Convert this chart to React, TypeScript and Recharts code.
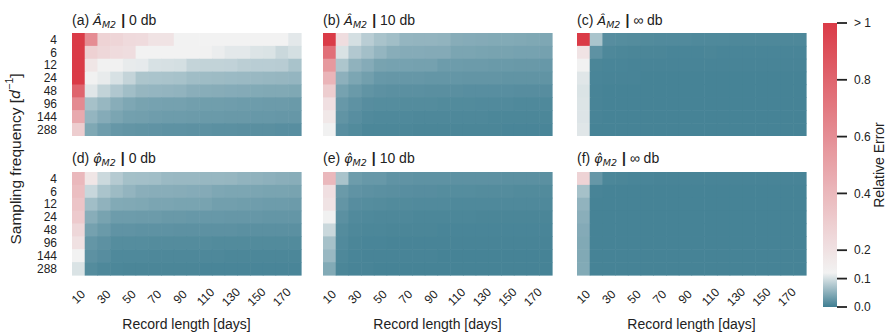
import React from 'react';
import { ScatterChart, Scatter, XAxis, YAxis, BarChart, Bar } from 'recharts';

// record length [days] on x, sampling frequency [1/d] on y
const recordLengths = [10, 20, 30, 40, 50, 60, 70, 80, 90, 100, 110, 120, 130, 140, 150, 160, 170, 180];
const recordTicks = [10, 30, 50, 70, 90, 110, 130, 150, 170];
const samplingFreqs = [4, 6, 12, 24, 48, 96, 144, 288];
const colorbarTicks = [0, 0.1, 0.2, 0.4, 0.6, 0.8, 1];

// relative errors, one row per sampling frequency (values > 1 clipped to 1)
const ampErr0db = [
  [1.0, 0.61, 0.27, 0.26, 0.235, 0.23, 0.19, 0.19, 0.12, 0.12, 0.12, 0.12, 0.12, 0.12, 0.12, 0.12, 0.12, 0.11],
  [1.0, 0.28, 0.25, 0.23, 0.22, 0.12, 0.12, 0.12, 0.12, 0.12, 0.119, 0.115, 0.11, 0.11, 0.105, 0.104, 0.093, 0.1],
  [1.0, 0.18, 0.119, 0.119, 0.113, 0.112, 0.102, 0.101, 0.1, 0.089, 0.088, 0.088, 0.087, 0.083, 0.082, 0.082, 0.081, 0.071],
  [1.0, 0.119, 0.113, 0.102, 0.089, 0.073, 0.072, 0.071, 0.07, 0.065, 0.064, 0.063, 0.062, 0.061, 0.06, 0.059, 0.058, 0.057],
  [0.8, 0.108, 0.088, 0.076, 0.066, 0.058, 0.057, 0.056, 0.055, 0.05, 0.049, 0.048, 0.047, 0.046, 0.045, 0.044, 0.044, 0.043],
  [0.62, 0.069, 0.059, 0.049, 0.042, 0.038, 0.037, 0.036, 0.036, 0.034, 0.033, 0.033, 0.032, 0.031, 0.031, 0.03, 0.03, 0.029],
  [0.47, 0.057, 0.047, 0.04, 0.035, 0.034, 0.032, 0.031, 0.031, 0.03, 0.029, 0.029, 0.028, 0.028, 0.027, 0.027, 0.026, 0.026],
  [0.3, 0.043, 0.032, 0.026, 0.024, 0.023, 0.022, 0.021, 0.021, 0.02, 0.02, 0.019, 0.019, 0.018, 0.018, 0.018, 0.017, 0.017],
];

const ampErr10db = [
  [1.0, 0.22, 0.1, 0.082, 0.071, 0.066, 0.057, 0.056, 0.056, 0.055, 0.048, 0.047, 0.046, 0.045, 0.045, 0.044, 0.043, 0.042],
  [0.75, 0.103, 0.077, 0.067, 0.057, 0.049, 0.047, 0.047, 0.046, 0.046, 0.04, 0.04, 0.039, 0.038, 0.038, 0.037, 0.037, 0.036],
  [0.55, 0.074, 0.054, 0.047, 0.038, 0.037, 0.037, 0.036, 0.036, 0.031, 0.031, 0.03, 0.03, 0.029, 0.029, 0.028, 0.028, 0.027],
  [0.42, 0.052, 0.041, 0.034, 0.027, 0.026, 0.026, 0.026, 0.025, 0.025, 0.025, 0.024, 0.024, 0.024, 0.023, 0.023, 0.023, 0.023],
  [0.3, 0.037, 0.029, 0.023, 0.02, 0.019, 0.019, 0.019, 0.018, 0.018, 0.018, 0.017, 0.017, 0.017, 0.017, 0.016, 0.016, 0.016],
  [0.21, 0.027, 0.021, 0.016, 0.015, 0.015, 0.014, 0.014, 0.014, 0.013, 0.013, 0.013, 0.012, 0.012, 0.012, 0.011, 0.011, 0.011],
  [0.17, 0.023, 0.017, 0.012, 0.011, 0.011, 0.011, 0.01, 0.01, 0.01, 0.01, 0.01, 0.01, 0.009, 0.009, 0.009, 0.009, 0.009],
  [0.119, 0.017, 0.013, 0.009, 0.009, 0.009, 0.009, 0.008, 0.008, 0.008, 0.008, 0.008, 0.008, 0.008, 0.007, 0.007, 0.007, 0.007],
];

const ampErrInf = [
  [1.0, 0.072, 0.016, 0.015, 0.014, 0.013, 0.012, 0.012, 0.012, 0.011, 0.011, 0.011, 0.01, 0.01, 0.01, 0.01, 0.01, 0.01],
  [0.19, 0.021, 0.01, 0.009, 0.008, 0.008, 0.008, 0.007, 0.007, 0.007, 0.008, 0.007, 0.007, 0.007, 0.007, 0.007, 0.007, 0.007],
  [0.119, 0.008, 0.007, 0.007, 0.006, 0.006, 0.006, 0.006, 0.006, 0.006, 0.006, 0.006, 0.006, 0.006, 0.006, 0.006, 0.006, 0.006],
  [0.108, 0.007, 0.006, 0.006, 0.006, 0.005, 0.005, 0.005, 0.005, 0.005, 0.005, 0.005, 0.005, 0.005, 0.005, 0.005, 0.005, 0.005],
  [0.104, 0.006, 0.005, 0.005, 0.005, 0.005, 0.005, 0.005, 0.005, 0.005, 0.005, 0.005, 0.005, 0.005, 0.005, 0.005, 0.005, 0.005],
  [0.105, 0.006, 0.005, 0.005, 0.005, 0.005, 0.005, 0.005, 0.005, 0.005, 0.005, 0.005, 0.005, 0.005, 0.005, 0.005, 0.005, 0.005],
  [0.106, 0.006, 0.005, 0.005, 0.005, 0.005, 0.005, 0.005, 0.005, 0.005, 0.005, 0.005, 0.005, 0.005, 0.005, 0.005, 0.005, 0.005],
  [0.108, 0.005, 0.005, 0.005, 0.005, 0.005, 0.005, 0.005, 0.005, 0.005, 0.005, 0.005, 0.005, 0.005, 0.005, 0.005, 0.005, 0.005],
];

const phaseErr0db = [
  [0.4, 0.18, 0.094, 0.079, 0.068, 0.067, 0.066, 0.061, 0.06, 0.06, 0.059, 0.059, 0.058, 0.055, 0.054, 0.052, 0.05, 0.049],
  [0.37, 0.092, 0.072, 0.063, 0.056, 0.05, 0.049, 0.049, 0.048, 0.047, 0.046, 0.042, 0.041, 0.041, 0.04, 0.039, 0.039, 0.038],
  [0.34, 0.066, 0.054, 0.045, 0.044, 0.043, 0.04, 0.04, 0.039, 0.039, 0.038, 0.034, 0.034, 0.033, 0.032, 0.031, 0.031, 0.03],
  [0.31, 0.049, 0.038, 0.031, 0.031, 0.03, 0.03, 0.028, 0.028, 0.027, 0.027, 0.027, 0.026, 0.026, 0.026, 0.025, 0.025, 0.025],
  [0.25, 0.036, 0.029, 0.022, 0.022, 0.021, 0.021, 0.021, 0.02, 0.02, 0.02, 0.02, 0.02, 0.019, 0.019, 0.019, 0.019, 0.019],
  [0.2, 0.025, 0.02, 0.015, 0.015, 0.015, 0.014, 0.014, 0.014, 0.014, 0.014, 0.013, 0.013, 0.013, 0.013, 0.013, 0.013, 0.013],
  [0.12, 0.02, 0.016, 0.011, 0.011, 0.011, 0.01, 0.01, 0.01, 0.01, 0.01, 0.01, 0.009, 0.009, 0.009, 0.009, 0.009, 0.009],
  [0.104, 0.014, 0.01, 0.009, 0.008, 0.008, 0.008, 0.008, 0.008, 0.008, 0.007, 0.007, 0.007, 0.007, 0.007, 0.007, 0.007, 0.007],
];

const phaseErr10db = [
  [0.4, 0.071, 0.031, 0.027, 0.027, 0.022, 0.022, 0.021, 0.021, 0.021, 0.02, 0.02, 0.02, 0.02, 0.019, 0.019, 0.019, 0.019],
  [0.21, 0.029, 0.022, 0.02, 0.019, 0.018, 0.017, 0.016, 0.016, 0.015, 0.015, 0.015, 0.014, 0.014, 0.014, 0.013, 0.013, 0.013],
  [0.19, 0.024, 0.016, 0.015, 0.014, 0.013, 0.013, 0.012, 0.012, 0.012, 0.011, 0.011, 0.011, 0.011, 0.011, 0.011, 0.011, 0.011],
  [0.119, 0.019, 0.012, 0.011, 0.01, 0.01, 0.01, 0.009, 0.009, 0.009, 0.009, 0.009, 0.008, 0.008, 0.008, 0.008, 0.008, 0.008],
  [0.093, 0.014, 0.01, 0.009, 0.009, 0.008, 0.008, 0.008, 0.008, 0.007, 0.007, 0.007, 0.007, 0.007, 0.007, 0.007, 0.007, 0.007],
  [0.069, 0.012, 0.008, 0.007, 0.007, 0.006, 0.006, 0.006, 0.006, 0.006, 0.006, 0.006, 0.006, 0.006, 0.006, 0.006, 0.006, 0.006],
  [0.06, 0.01, 0.007, 0.006, 0.006, 0.006, 0.006, 0.006, 0.006, 0.005, 0.005, 0.005, 0.005, 0.005, 0.005, 0.005, 0.005, 0.005],
  [0.045, 0.008, 0.006, 0.006, 0.005, 0.005, 0.005, 0.005, 0.005, 0.005, 0.005, 0.005, 0.005, 0.005, 0.005, 0.005, 0.005, 0.005],
];

const phaseErrInf = [
  [0.27, 0.026, 0.009, 0.008, 0.007, 0.007, 0.006, 0.006, 0.006, 0.006, 0.006, 0.006, 0.006, 0.006, 0.006, 0.006, 0.006, 0.006],
  [0.069, 0.006, 0.005, 0.005, 0.005, 0.005, 0.005, 0.005, 0.005, 0.005, 0.005, 0.005, 0.005, 0.005, 0.005, 0.005, 0.005, 0.005],
  [0.055, 0.005, 0.005, 0.005, 0.005, 0.005, 0.005, 0.005, 0.005, 0.005, 0.005, 0.005, 0.005, 0.005, 0.005, 0.005, 0.005, 0.005],
  [0.05, 0.005, 0.005, 0.005, 0.005, 0.005, 0.005, 0.005, 0.005, 0.005, 0.005, 0.005, 0.005, 0.005, 0.005, 0.005, 0.005, 0.005],
  [0.046, 0.005, 0.005, 0.005, 0.005, 0.005, 0.005, 0.005, 0.005, 0.005, 0.005, 0.005, 0.005, 0.005, 0.005, 0.005, 0.005, 0.005],
  [0.044, 0.005, 0.005, 0.005, 0.005, 0.005, 0.005, 0.005, 0.005, 0.005, 0.005, 0.005, 0.005, 0.005, 0.005, 0.005, 0.005, 0.005],
  [0.044, 0.005, 0.005, 0.005, 0.005, 0.005, 0.005, 0.005, 0.005, 0.005, 0.005, 0.005, 0.005, 0.005, 0.005, 0.005, 0.005, 0.005],
  [0.045, 0.005, 0.005, 0.005, 0.005, 0.005, 0.005, 0.005, 0.005, 0.005, 0.005, 0.005, 0.005, 0.005, 0.005, 0.005, 0.005, 0.005],
];

const FONT = '"Liberation Sans", Arial, Helvetica, sans-serif';
const MATH_FONT = '"DejaVu Sans", sans-serif';
const TEXT = '#222';
const PLOT_W = 229;
const PLOT_H = 103;
const Y_AXIS_W = 72;
const X_AXIS_H = 44;
const SIDE = 12; // room for rotated tick labels

// diverging teal -> light grey -> red, centred a bit above 0.1
const LOW = [63, 126, 146];
const MID = [242, 242, 242];
const HIGH = [218, 59, 71];
const CENTER = 0.12;

function errColor(v: number) {
  const c = Math.min(Math.max(v, 0), 1);
  let a = LOW, b = MID, t = c / CENTER;
  if (c > CENTER) {
    a = MID;
    b = HIGH;
    t = (c - CENTER) / (1 - CENTER);
  }
  const rgb = a.map((ch, i) => Math.round(ch + (b[i] - ch) * t));
  return `rgb(${rgb.join(',')})`;
}

const gradientStops = Array.from({ length: 51 }, (_, i) => i / 50);

const HeatCell = (props: any) => {
  const { cx, cy, payload } = props;
  const w = PLOT_W / recordLengths.length;
  const h = PLOT_H / samplingFreqs.length;
  // a little overlap so no seams show between neighbouring cells
  return <rect x={cx - w / 2} y={cy - h / 2} width={w + 0.6} height={h + 0.6} fill={errColor(payload.v)} />;
};

const RotatedTick = (props: any) => {
  const { x, y, payload } = props;
  return (
    <text x={x} y={y} transform={`rotate(-45 ${x} ${y})`} textAnchor="middle" dominantBaseline="central"
      fontSize={12} fill={TEXT}>
      {payload.value}
    </text>
  );
};

function Panel({ values, left, top, showY, showX }: any) {
  const points = values.flatMap((row: number[], i: number) =>
    row.map((v, j) => ({ x: recordLengths[j], y: i, v })));
  const yw = showY ? Y_AXIS_W : SIDE;
  return (
    <div style={{ position: 'absolute', left: left - yw, top }}>
      <ScatterChart width={PLOT_W + yw + SIDE} height={PLOT_H + (showX ? X_AXIS_H : 0)}
        margin={{ top: 0, right: SIDE, bottom: 0, left: showY ? 0 : SIDE }}>
        <XAxis type="number" dataKey="x" domain={[5, 185]} ticks={recordTicks} interval={0}
          hide={!showX} height={X_AXIS_H} axisLine={false} tickLine={false} tickSize={0} tickMargin={22}
          tick={<RotatedTick />} />
        <YAxis type="number" dataKey="y" domain={[-0.5, 7.5]} reversed ticks={[0, 1, 2, 3, 4, 5, 6, 7]}
          interval={0} hide={!showY} width={Y_AXIS_W} axisLine={false} tickLine={false} tickSize={0}
          tickMargin={15} tickFormatter={(i: number) => String(samplingFreqs[i])}
          tick={{ fontSize: 12, fill: TEXT }} />
        <Scatter data={points} shape={HeatCell} isAnimationActive={false} />
      </ScatterChart>
    </div>
  );
}

function Title({ x, y, tag, symbol, snr }: any) {
  return (
    <text x={x} y={y} fontSize={14} fill={TEXT}>
      {`(${tag}) `}
      <tspan fontFamily={MATH_FONT} fontStyle="italic" fontSize={13}>{symbol}</tspan>
      <tspan fontFamily={MATH_FONT} fontStyle="italic" fontSize={9.5} dy={3}>M2</tspan>
      <tspan dy={-3} dx={5} fontWeight="bold">|</tspan>
      <tspan> {snr} db</tspan>
    </text>
  );
}

const lefts = [72, 323, 577];
const tops = [33, 172];

export default function App() {
  return (
    <div style={{ position: 'absolute', left: 0, top: 0, width: 888, height: 336, overflow: 'hidden',
      background: '#fff', fontFamily: FONT }}>
      <Panel values={ampErr0db} left={lefts[0]} top={tops[0]} showY />
      <Panel values={ampErr10db} left={lefts[1]} top={tops[0]} />
      <Panel values={ampErrInf} left={lefts[2]} top={tops[0]} />
      <Panel values={phaseErr0db} left={lefts[0]} top={tops[1]} showY showX />
      <Panel values={phaseErr10db} left={lefts[1]} top={tops[1]} showX />
      <Panel values={phaseErrInf} left={lefts[2]} top={tops[1]} showX />

      {/* colorbar */}
      <div style={{ position: 'absolute', left: 823, top: 13 }}>
        <BarChart width={65} height={304} data={[{ name: 'err', v: 1 }]} barCategoryGap={0}
          margin={{ top: 10, right: 0, bottom: 10, left: 0 }}>
          <defs>
            <linearGradient id="errGrad" x1="0" y1="1" x2="0" y2="0">
              {gradientStops.map((s) => (
                <stop key={s} offset={`${s * 100}%`} stopColor={errColor(s)} />
              ))}
            </linearGradient>
          </defs>
          <XAxis dataKey="name" hide />
          <YAxis orientation="right" type="number" domain={[0, 1]} ticks={colorbarTicks} interval={0}
            width={51} axisLine={false} tickSize={10} tickMargin={7}
            tickLine={{ stroke: TEXT, strokeWidth: 1.8 }}
            tickFormatter={(v: number) => (v === 1 ? '> 1' : v.toFixed(1))}
            tick={{ fontSize: 12, fill: TEXT }} />
          <Bar dataKey="v" fill="url(#errGrad)" isAnimationActive={false} />
        </BarChart>
      </div>

      <svg width={888} height={336} style={{ position: 'absolute', left: 0, top: 0, pointerEvents: 'none' }}
        fontFamily={FONT}>
        <Title x={72} y={25} tag="a" symbol="Â" snr="0" />
        <Title x={323} y={25} tag="b" symbol="Â" snr="10" />
        <Title x={577} y={25} tag="c" symbol="Â" snr="∞" />
        <Title x={72} y={163} tag="d" symbol={'\u03C6\u0302'} snr="0" />
        <Title x={323} y={163} tag="e" symbol={'\u03C6\u0302'} snr="10" />
        <Title x={577} y={163} tag="f" symbol={'\u03C6\u0302'} snr="∞" />
        {lefts.map((l) => (
          <text key={l} x={l + PLOT_W / 2} y={329} textAnchor="middle" fontSize={14} fill={TEXT}>
            Record length [days]
          </text>
        ))}
        <text transform="translate(15,159) rotate(-90)" textAnchor="middle" dominantBaseline="central"
          fontSize={15.5} fill={TEXT}>
          Sampling frequency [<tspan fontFamily={MATH_FONT} fontStyle="italic" fontSize={14.5}>d</tspan>
          <tspan fontSize={10.5} dy={-6}>−1</tspan>
          <tspan dy={6}>]</tspan>
        </text>
        <text transform="translate(879,165) rotate(-90)" textAnchor="middle" dominantBaseline="central"
          fontSize={14} fill={TEXT}>
          Relative Error
        </text>
      </svg>
    </div>
  );
}
